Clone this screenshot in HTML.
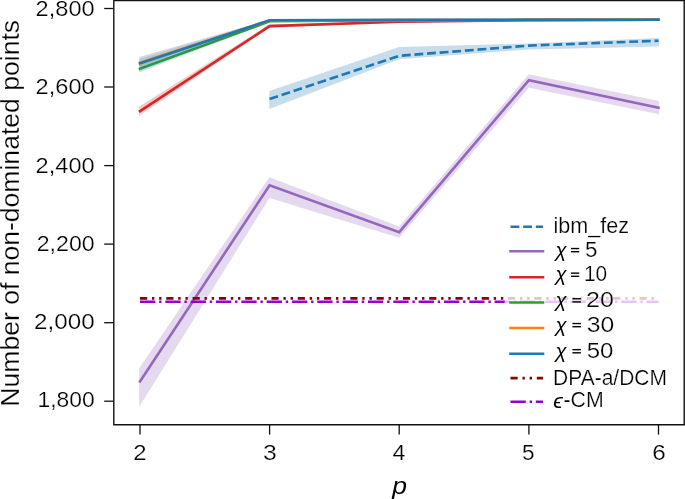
<!DOCTYPE html>
<html><head><meta charset="utf-8"><title>chart</title>
<style>html,body{margin:0;padding:0;background:#fff;}body{width:685px;height:499px;overflow:hidden;}svg{display:block;will-change:transform;}text{font-family:"Liberation Sans",sans-serif;fill:#000;stroke:#fff;stroke-width:0.22px;paint-order:fill stroke;}text.b{stroke:none;}</style></head><body>
<svg width="685" height="499" viewBox="0 0 685 499">
<rect width="685" height="499" fill="#fff"/>
<g>
<polygon points="269.3,90.9 399.0,46.9 528.7,43.4 659.0,38.1 659.0,46.6 528.7,49.4 399.0,59.3 269.3,109.0" fill="#1f77b4" fill-opacity="0.25"/>
<polyline points="269.6,99.1 399.2,55.8 528.9,45.6 658.5,40.7" fill="none" stroke="#1f77b4" stroke-width="2.6" stroke-linejoin="miter" stroke-dasharray="8.84 3.82"/>
<polygon points="139.2,368.3 269.4,177.2 399.0,226.5 528.7,74.2 659.0,100.9 659.0,114.2 528.7,87.7 399.0,237.7 269.4,198.0 139.2,406.8" fill="#9467bd" fill-opacity="0.25"/>
<polyline points="140.0,381.4 269.6,185.2 399.2,232.1 528.9,80.2 658.5,107.8" fill="none" stroke="#9467bd" stroke-width="2.6" stroke-linejoin="miter" stroke-linecap="square"/>
<polygon points="139.2,106.5 269.4,24.5 399.0,20.8 528.7,19.7 659.0,19.5 659.0,20.2 528.7,20.4 399.0,22.6 269.4,27.7 139.2,115.7" fill="#d62728" fill-opacity="0.25"/>
<polyline points="140.0,111.1 269.6,26.1 399.2,21.7 528.9,20.1 658.5,19.8" fill="none" stroke="#d62728" stroke-width="2.6" stroke-linejoin="miter" stroke-linecap="square"/>
<polygon points="139.2,65.3 269.4,20.6 399.0,19.7 528.7,19.5 659.0,19.4 659.0,20.2 528.7,20.3 399.0,20.7 269.4,22.0 139.2,72.5" fill="#2ca02c" fill-opacity="0.25"/>
<polyline points="140.0,68.7 269.6,21.3 399.2,20.2 528.9,19.9 658.5,19.8" fill="none" stroke="#2ca02c" stroke-width="2.6" stroke-linejoin="miter" stroke-linecap="square"/>
<polygon points="139.2,59.1 269.4,19.8 399.0,19.6 528.7,19.5 659.0,19.4 659.0,20.2 528.7,20.3 399.0,20.6 269.4,21.2 139.2,66.3" fill="#ff7f0e" fill-opacity="0.25"/>
<polyline points="140.0,62.7 269.6,20.5 399.2,20.1 528.9,19.9 658.5,19.8" fill="none" stroke="#ff7f0e" stroke-width="2.6" stroke-linejoin="miter" stroke-linecap="square"/>
<polygon points="139.2,57.0 269.4,19.6 399.0,19.3 528.7,19.4 659.0,19.3 659.0,20.1 528.7,20.2 399.0,20.3 269.4,21.0 139.2,71.0" fill="#1f77b4" fill-opacity="0.25"/>
<polyline points="140.0,63.4 269.6,20.3 399.2,19.8 528.9,19.8 658.5,19.7" fill="none" stroke="#1f77b4" stroke-width="2.6" stroke-linejoin="miter" stroke-linecap="square"/>
<line x1="140" x2="658.5" y1="298.4" y2="298.4" stroke="#8b0000" stroke-width="2.6" stroke-dasharray="7.17 4.78 2.39 4.78 2.39 4.78"/>
<line x1="140" x2="658.5" y1="301.8" y2="301.8" stroke="#9400d3" stroke-width="2.6" stroke-dasharray="15.30 3.82 2.39 3.82"/>
</g>
<g stroke="#111" stroke-width="1.4" fill="none">
<path d="M113.8 0 V424.75 M113.1 424.75 H685 M684.2 0 V425.5 M113.1 0.55 H685"/>
</g>
<g stroke="#111" stroke-width="1.3">
<line x1="104.2" x2="113.4" y1="401.2" y2="401.2"/>
<line x1="104.2" x2="113.4" y1="322.7" y2="322.7"/>
<line x1="104.2" x2="113.4" y1="244.1" y2="244.1"/>
<line x1="104.2" x2="113.4" y1="165.6" y2="165.6"/>
<line x1="104.2" x2="113.4" y1="87.0" y2="87.0"/>
<line x1="104.2" x2="113.4" y1="8.5" y2="8.5"/>
<line x1="140.0" x2="140.0" y1="425" y2="434.6"/>
<line x1="269.6" x2="269.6" y1="425" y2="434.6"/>
<line x1="399.2" x2="399.2" y1="425" y2="434.6"/>
<line x1="528.9" x2="528.9" y1="425" y2="434.6"/>
<line x1="658.5" x2="658.5" y1="425" y2="434.6"/>
</g>
<rect x="504.7" y="211" width="175" height="206" fill="#fff" fill-opacity="0.77"/>
<line x1="510.5" x2="543.0" y1="226.7" y2="226.7" stroke="#1f77b4" stroke-width="2.6" stroke-dasharray="8.84 3.82"/>
<line x1="510.5" x2="543.0" y1="251.3" y2="251.3" stroke="#9467bd" stroke-width="2.6" stroke-linecap="square"/>
<line x1="510.5" x2="543.0" y1="277.2" y2="277.2" stroke="#d62728" stroke-width="2.6" stroke-linecap="square"/>
<line x1="510.5" x2="543.0" y1="302.5" y2="302.5" stroke="#2ca02c" stroke-width="2.6" stroke-linecap="square"/>
<line x1="510.5" x2="543.0" y1="328.0" y2="328.0" stroke="#ff7f0e" stroke-width="2.6" stroke-linecap="square"/>
<line x1="510.5" x2="543.0" y1="353.8" y2="353.8" stroke="#1f77b4" stroke-width="2.6" stroke-linecap="square"/>
<line x1="510.5" x2="543.0" y1="378.1" y2="378.1" stroke="#8b0000" stroke-width="2.6" stroke-dasharray="7.17 4.78 2.39 4.78 2.39 4.78"/>
<line x1="510.5" x2="543.0" y1="401.8" y2="401.8" stroke="#9400d3" stroke-width="2.6" stroke-dasharray="15.30 3.82 2.39 3.82"/>
<g class="tx" opacity="0.995">
<text x="35.61" y="15.50" font-size="21.7" textLength="59.01" lengthAdjust="spacingAndGlyphs" >2,800</text>
<text x="35.61" y="93.94" font-size="21.7" textLength="59.01" lengthAdjust="spacingAndGlyphs" >2,600</text>
<text x="35.61" y="172.78" font-size="21.7" textLength="59.01" lengthAdjust="spacingAndGlyphs" >2,400</text>
<text x="36.74" y="250.82" font-size="21.7" textLength="57.87" lengthAdjust="spacingAndGlyphs" >2,200</text>
<text x="34.08" y="329.46" font-size="21.7" textLength="60.56" lengthAdjust="spacingAndGlyphs" >2,000</text>
<text x="37.46" y="407.40" font-size="21.7" textLength="57.13" lengthAdjust="spacingAndGlyphs" >1,800</text>
<text x="133.20" y="459.90" font-size="21.7" textLength="13.31" lengthAdjust="spacingAndGlyphs" >2</text>
<text x="262.96" y="459.90" font-size="21.7" textLength="13.73" lengthAdjust="spacingAndGlyphs" >3</text>
<text x="392.57" y="459.90" font-size="21.7" textLength="12.91" lengthAdjust="spacingAndGlyphs" >4</text>
<text x="522.00" y="459.90" font-size="21.7" textLength="12.55" lengthAdjust="spacingAndGlyphs" >5</text>
<text x="652.17" y="459.90" font-size="21.7" textLength="13.50" lengthAdjust="spacingAndGlyphs" >6</text>
<text x="392.36" y="494.00" font-size="24.6" font-style="italic" textLength="14.79" lengthAdjust="spacingAndGlyphs" class="b">p</text>
<text x="553.46" y="232.70" font-size="21.6" textLength="75.62" lengthAdjust="spacingAndGlyphs" >ibm_fez</text>
<text x="555.47" y="256.80" font-size="21" font-style="italic" textLength="11.06" lengthAdjust="spacingAndGlyphs" class="b">χ</text>
<text x="585.00" y="256.80" font-size="21.7" textLength="12.44" lengthAdjust="spacingAndGlyphs" >5</text>
<text x="555.47" y="281.40" font-size="21" font-style="italic" textLength="11.06" lengthAdjust="spacingAndGlyphs" class="b">χ</text>
<text x="584.01" y="281.40" font-size="21.7" textLength="23.21" lengthAdjust="spacingAndGlyphs" >10</text>
<text x="555.47" y="307.00" font-size="21" font-style="italic" textLength="11.06" lengthAdjust="spacingAndGlyphs" class="b">χ</text>
<text x="586.14" y="307.00" font-size="21.7" textLength="27.84" lengthAdjust="spacingAndGlyphs" >20</text>
<text x="555.47" y="331.80" font-size="21" font-style="italic" textLength="11.06" lengthAdjust="spacingAndGlyphs" class="b">χ</text>
<text x="586.86" y="331.80" font-size="21.7" textLength="27.51" lengthAdjust="spacingAndGlyphs" >30</text>
<text x="555.47" y="357.90" font-size="21" font-style="italic" textLength="11.06" lengthAdjust="spacingAndGlyphs" class="b">χ</text>
<text x="586.74" y="357.90" font-size="21.7" textLength="26.70" lengthAdjust="spacingAndGlyphs" >50</text>
<text x="553.08" y="385.35" font-size="22" textLength="113.94" lengthAdjust="spacingAndGlyphs" >DPA-a/DCM</text>
<text x="553.35" y="407.70" font-size="21" font-style="italic" textLength="9.54" lengthAdjust="spacingAndGlyphs" class="b">ϵ</text>
<text x="563.45" y="407.40" font-size="22" textLength="40.19" lengthAdjust="spacingAndGlyphs" >-CM</text>
<rect x="571.00" y="247.85" width="8.20" height="1.4" fill="#000"/>
<rect x="571.00" y="251.00" width="8.20" height="1.4" fill="#000"/>
<rect x="571.00" y="272.45" width="8.20" height="1.4" fill="#000"/>
<rect x="571.00" y="275.60" width="8.20" height="1.4" fill="#000"/>
<rect x="572.40" y="298.05" width="8.50" height="1.4" fill="#000"/>
<rect x="572.40" y="301.20" width="8.50" height="1.4" fill="#000"/>
<rect x="572.40" y="322.85" width="8.50" height="1.4" fill="#000"/>
<rect x="572.40" y="326.00" width="8.50" height="1.4" fill="#000"/>
<rect x="572.40" y="348.95" width="8.50" height="1.4" fill="#000"/>
<rect x="572.40" y="352.10" width="8.50" height="1.4" fill="#000"/>
<g transform="translate(19.2 404.5) rotate(-90)"><text x="-2.18" y="0.00" font-size="25.2" textLength="386.74" lengthAdjust="spacingAndGlyphs" >Number of non-dominated points</text></g>
</g>
</svg></body></html>
